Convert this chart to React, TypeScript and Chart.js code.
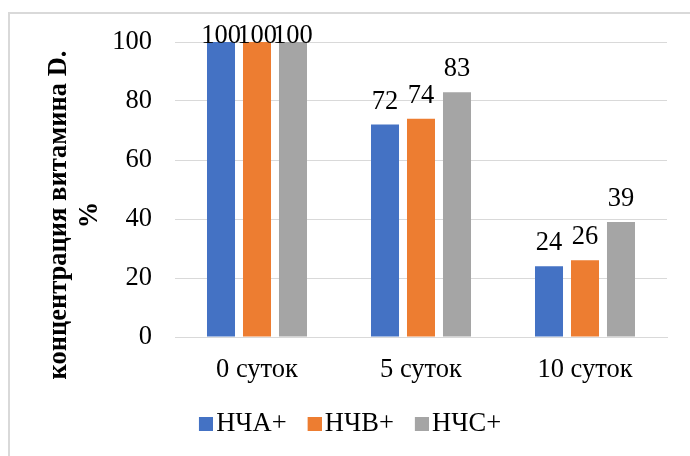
import React, { useEffect, useRef } from "react";
import { Chart, registerables } from "chart.js";

Chart.register(...registerables);

const categories = ["0 суток", "5 суток", "10 суток"];
const seriesNames = ["НЧА+", "НЧВ+", "НЧС+"];
const seriesA = [100, 72, 24];
const seriesB = [100, 74, 26];
const seriesC = [100, 83, 39];
const seriesColors = ["#4472C4", "#ED7D31", "#A5A5A5"];
const yTicks = [0, 20, 40, 60, 80, 100];
const yTitle = ["концентрация витамина D.", "%"];

const FONT = '"Liberation Serif"';
const FS = 26.5;

const dataLabels = {
  id: "dataLabels",
  afterDatasetsDraw(chart: any) {
    const ctx = chart.ctx;
    const top = chart.chartArea.top;
    ctx.save();
    ctx.font = `${FS}px ${FONT}`;
    ctx.fillStyle = "#000";
    ctx.textAlign = "center";
    ctx.textBaseline = "alphabetic";
    chart.data.datasets.forEach((ds: any, di: number) => {
      const meta = chart.getDatasetMeta(di);
      meta.data.forEach((el: any, i: number) => {
        const y = Math.max(el.y - 16, top + 1);
        ctx.fillText(String(ds.data[i]), el.x, y);
      });
    });
    ctx.restore();
  },
};

const yTitlePlugin = {
  id: "yTitlePlugin",
  afterDraw(chart: any) {
    const ctx = chart.ctx;
    ctx.save();
    ctx.font = `bold ${FS}px ${FONT}`;
    ctx.fillStyle = "#000";
    ctx.textAlign = "center";
    ctx.textBaseline = "middle";
    const cy = 201;
    const xs = [49, 80];
    yTitle.forEach((line, i) => {
      ctx.save();
      ctx.translate(xs[i], cy);
      ctx.rotate(-Math.PI / 2);
      ctx.fillText(line, 0, 0);
      ctx.restore();
    });
    ctx.restore();
  },
};

// legend marker: a 14px square drawn on the right part of a wider image,
// so the gap between marker and text is small, as in the reference
function makeMarker(color: string) {
  const c = document.createElement("canvas");
  c.width = 34;
  c.height = 14;
  const g = c.getContext("2d")!;
  g.fillStyle = color;
  g.fillRect(20, 0, 14, 14);
  return c;
}

export default function App() {
  const ref = useRef<HTMLCanvasElement | null>(null);
  useEffect(() => {
    if (!ref.current) return;
    const series = [seriesA, seriesB, seriesC];
    const markers = seriesColors.map(makeMarker);
    const chart: any = new Chart(ref.current, {
      type: "bar",
      data: {
        labels: categories,
        datasets: series.map((d, i) => ({
          label: seriesNames[i],
          data: d,
          backgroundColor: seriesColors[i],
          borderWidth: 0,
          categoryPercentage: 0.6585,
          barPercentage: 0.778,
        })),
      },
      options: {
        animation: false,
        responsive: false,
        maintainAspectRatio: false,
        layout: { padding: { left: 0, right: 10, top: 28, bottom: 8.5 } },
        plugins: {
          legend: {
            position: "bottom",
            labels: {
              boxWidth: 14,
              boxHeight: 14,
              padding: 11,
              usePointStyle: true,
              color: "#000",
              font: { family: FONT, size: FS },
              generateLabels: (ch: any) => {
                const items = (Chart as any).defaults.plugins.legend.labels.generateLabels(ch);
                return items.map((it: any, i: number) => ({ ...it, pointStyle: markers[i] }));
              },
            },
          },
          tooltip: { enabled: false },
          title: { display: false },
        },
        scales: {
          x: {
            grid: { display: false, drawTicks: false },
            border: { display: true, color: "#d9d9d9", width: 1 },
            ticks: {
              color: "#000",
              padding: 17,
              font: { family: FONT, size: FS },
            },
            afterFit: (axis: any) => {
              axis.height = 63;
            },
          },
          y: {
            min: 0,
            max: 100,
            afterBuildTicks: (axis: any) => {
              axis.ticks = yTicks.map((v) => ({ value: v }));
            },
            grid: {
              color: "#d9d9d9",
              lineWidth: 1,
              drawTicks: true,
              tickLength: 23,
              tickColor: "rgba(0,0,0,0)",
            },
            border: { display: false },
            ticks: {
              color: "#000",
              padding: 0,
              font: { family: FONT, size: FS },
            },
            afterFit: (axis: any) => {
              axis.width = 165;
            },
          },
          yRight: {
            position: "right",
            min: 0,
            max: 1,
            grid: { display: false, drawTicks: false },
            border: { display: false },
            ticks: { display: false },
            afterFit: (axis: any) => {
              axis.width = 13;
            },
          },
        },
      },
      plugins: [dataLabels, yTitlePlugin],
    });
    return () => chart.destroy();
  }, []);
  return (
    <div
      style={{
        position: "fixed",
        left: 8,
        top: 12,
        width: 682,
        height: 444,
        borderTop: "2px solid #d9d9d9",
        borderLeft: "2px solid #d9d9d9",
        boxSizing: "border-box",
        background: "#fff",
      }}
    >
      <canvas ref={ref} width={680} height={442} style={{ display: "block" }} />
    </div>
  );
}
